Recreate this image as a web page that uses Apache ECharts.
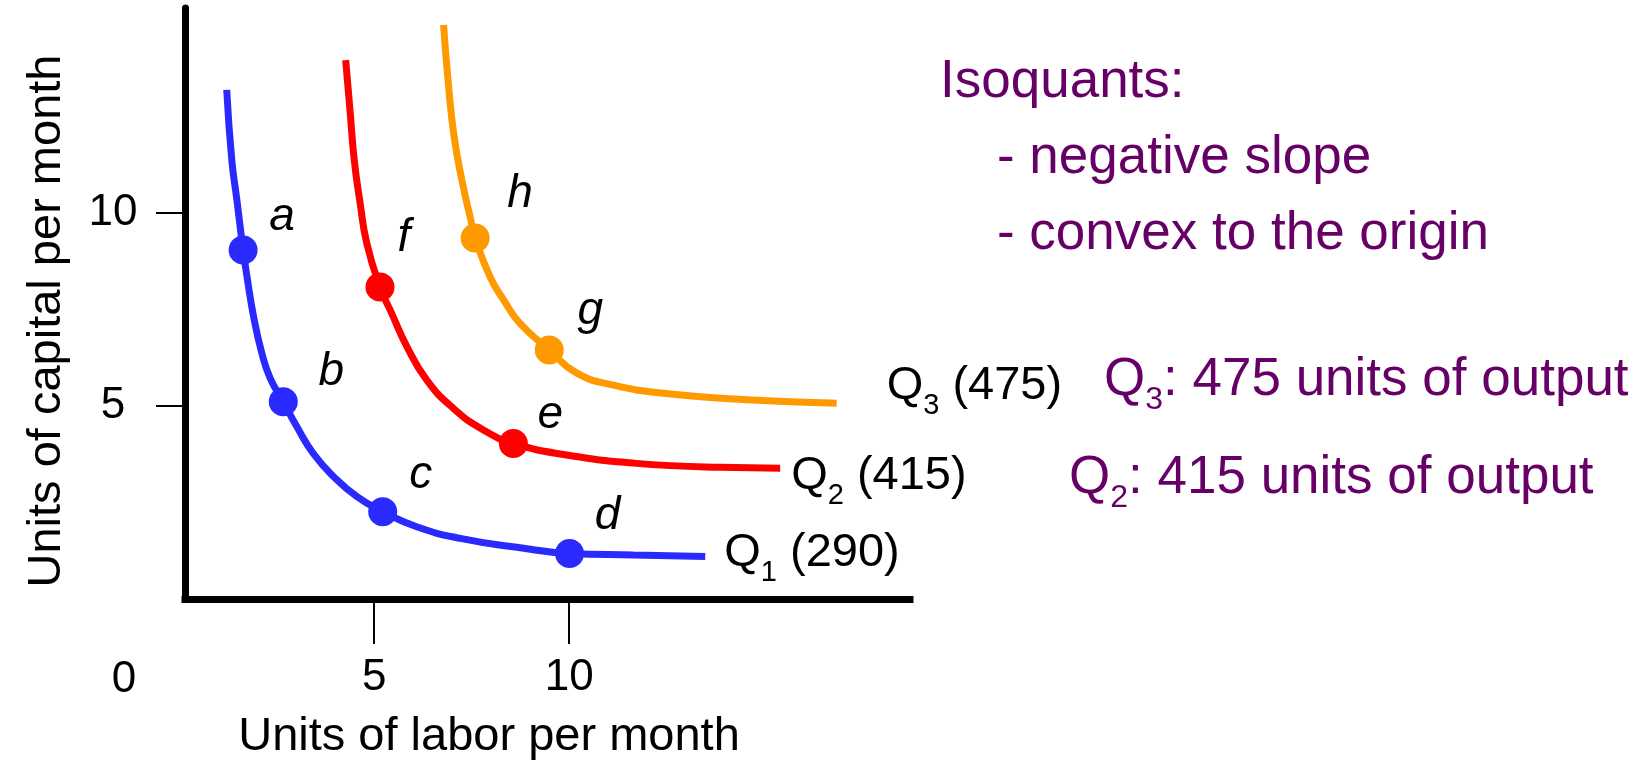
<!DOCTYPE html>
<html>
<head>
<meta charset="utf-8">
<title>Isoquants</title>
<script src="https://cdn.jsdelivr.net/npm/echarts@6/dist/echarts.min.js"></script>
<style>
  html, body { margin: 0; padding: 0; background: #fff; }
  #chart { width: 1651px; height: 762px; }
</style>
</head>
<body>
<div id="chart"></div>
<script>
// units of labor (x) / capital (y) read along each isoquant
const q1Labor   = [1.22, 1.35, 1.48, 1.64, 1.74, 1.91, 2.12, 2.33, 2.67, 3.02, 3.44, 3.96, 4.56, 5.22, 6.09, 7.21, 8.66, 10.01, 11.65, 13.49];
const q1Capital = [13.19, 11.37, 10.34, 9.04, 8.35, 7.31, 6.37, 5.73, 5.11, 4.46, 3.77, 3.17, 2.65, 2.26, 1.87, 1.57, 1.34, 1.18, 1.14, 1.10];

const q2Labor   = [4.27, 4.38, 4.49, 4.64, 4.81, 5.15, 5.45, 5.84, 6.35, 7.03, 7.80, 8.57, 9.94, 11.65, 13.87, 15.41];
const q2Capital = [13.96, 12.67, 11.37, 10.26, 9.22, 8.08, 7.40, 6.54, 5.67, 4.94, 4.38, 4.03, 3.73, 3.52, 3.41, 3.39];

const q3Labor   = [6.78, 6.91, 7.05, 7.25, 7.46, 7.59, 7.97, 8.32, 8.74, 9.49, 10.20, 11.14, 12.42, 14.56, 16.86];
const q3Capital = [14.87, 13.27, 11.98, 10.85, 9.90, 9.35, 8.35, 7.75, 7.14, 6.45, 5.85, 5.54, 5.33, 5.16, 5.07];

// named points: letter -> index on its curve
const q1Points = { a: 3, b: 8, c: 13, d: 17 };
const q2Points = { f: 5, e: 11 };
const q3Points = { h: 5, g: 9 };

const outputs = [290, 415, 475];
const tickValues = [5, 10];

const FONT = '"Liberation Sans", Arial, Helvetica, sans-serif';
const PURPLE = '#660066';
const colors = ['#2a2aff', '#ff0000', '#ff9900'];
// label placement (px) relative to its dot / line end
const labelShift = { a: [39, -33], b: [48, -30], c: [38, -37], d: [38, -37], e: [37, -28], f: [24, -49], g: [41, -39], h: [45, -44] };
const endShift = [[19, -3], [11, 8], [50, -17]];

const chart = echarts.init(document.getElementById('chart'));

const pairs = (xs, ys) => xs.map((x, i) => [x, ys[i]]);
const marks = (xs, ys, pts) => Object.keys(pts).map(k => ({
  name: k,
  value: [xs[pts[k]], ys[pts[k]]],
  label: { offset: labelShift[k] }
}));

const qRich = {
  m: { fontSize: 47, lineHeight: 68, color: '#000', fontFamily: FONT },
  s: { fontSize: 29, lineHeight: 29, verticalAlign: 'bottom', color: '#000', fontFamily: FONT }
};
const pRich = {
  m: { fontSize: 53, lineHeight: 72, fill: PURPLE, fontFamily: FONT },
  s: { fontSize: 32, lineHeight: 32, verticalAlign: 'bottom', fill: PURPLE, fontFamily: FONT }
};

const curves = [
  [q1Labor, q1Capital, q1Points],
  [q2Labor, q2Capital, q2Points],
  [q3Labor, q3Capital, q3Points]
];

const series = [];
curves.forEach(([xs, ys, pts], i) => {
  series.push({
    type: 'line',
    data: pairs(xs, ys),
    smooth: 0.5,
    showSymbol: false,
    lineStyle: { width: 7, color: colors[i] },
    itemStyle: { color: colors[i] },
    endLabel: {
      show: true,
      distance: 0,
      offset: endShift[i],
      formatter: '{m|Q}{s|' + (i + 1) + '}{m| (' + outputs[i] + ')}',
      rich: qRich
    },
    z: 2
  });
  series.push({
    type: 'scatter',
    data: marks(xs, ys, pts),
    symbolSize: 29,
    itemStyle: { color: colors[i], opacity: 1 },
    label: {
      show: true,
      position: 'inside',
      formatter: '{b}',
      fontStyle: 'italic',
      fontSize: 46,
      fontFamily: FONT,
      color: '#000',
      opacity: 1,
      textBorderWidth: 0
    },
    z: 3
  });
});

const tickStyle = { color: '#000', width: 2 };

chart.setOption({
  animation: false,
  backgroundColor: '#fff',
  grid: { left: 185, right: 741, top: 8, bottom: 163, outerBoundsMode: 'none' },
  xAxis: {
    type: 'value',
    min: 0.15,
    max: 18.74,
    axisLine: { show: true, onZero: false, lineStyle: { color: '#000', width: 7, cap: 'square' } },
    axisTick: { show: true, customValues: tickValues, length: 45, lineStyle: tickStyle },
    axisLabel: { customValues: tickValues, margin: 57, fontSize: 44, color: '#000', fontFamily: FONT },
    splitLine: { show: false }
  },
  yAxis: {
    type: 'value',
    min: 0,
    max: 15.31,
    axisLine: { show: true, onZero: false, lineStyle: { color: '#000', width: 7 } },
    axisTick: { show: true, customValues: tickValues, length: 29, lineStyle: tickStyle },
    axisLabel: { customValues: tickValues, margin: 72, align: 'center', fontSize: 44, color: '#000', fontFamily: FONT },
    splitLine: { show: false }
  },
  graphic: [
    { type: 'text', x: 124, y: 680, style: { text: '0', font: '44px ' + FONT, fill: '#000', align: 'center', verticalAlign: 'middle' } },
    { type: 'text', x: 489, y: 737, style: { text: 'Units of labor per month', font: '47px ' + FONT, fill: '#000', align: 'center', verticalAlign: 'middle' } },
    { type: 'text', x: 47, y: 321, rotation: Math.PI / 2, style: { text: 'Units of capital per month', font: '47px ' + FONT, fill: '#000', align: 'center', verticalAlign: 'middle' } },
    { type: 'text', x: 940, y: 82, style: { text: 'Isoquants:', font: '53px ' + FONT, fill: PURPLE, align: 'left', verticalAlign: 'middle' } },
    { type: 'text', x: 997, y: 158, style: { text: '- negative slope', font: '53px ' + FONT, fill: PURPLE, align: 'left', verticalAlign: 'middle' } },
    { type: 'text', x: 997, y: 234, style: { text: '- convex to the origin', font: '53px ' + FONT, fill: PURPLE, align: 'left', verticalAlign: 'middle' } },
    { type: 'text', x: 1104, y: 380, style: { text: '{m|Q}{s|3}{m|: 475 units of output}', rich: pRich, fill: PURPLE, align: 'left', verticalAlign: 'middle' } },
    { type: 'text', x: 1069, y: 478, style: { text: '{m|Q}{s|2}{m|: 415 units of output}', rich: pRich, fill: PURPLE, align: 'left', verticalAlign: 'middle' } }
  ],
  series: series
});
</script>
</body>
</html>
